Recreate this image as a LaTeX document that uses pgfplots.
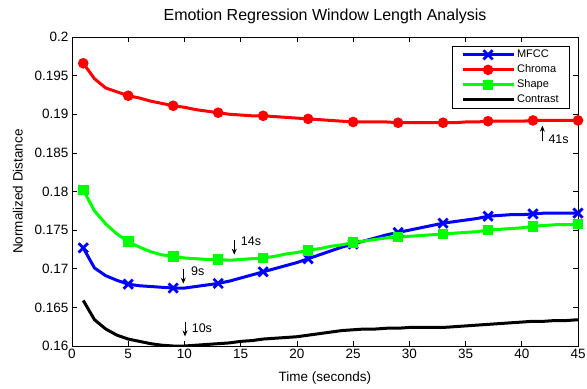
\documentclass[border=0pt]{standalone}
\usepackage{pgfplots}
\pgfplotsset{compat=1.18}
\usepackage{pgfplotstable}
\usetikzlibrary{arrows.meta,calc}
\usepackage{fontspec}
\setmainfont{Liberation Sans}
\definecolor{mblue}{RGB}{0,0,255}
\definecolor{mred}{RGB}{255,0,0}
\definecolor{mgreen}{RGB}{0,255,0}
\pgfplotstableread{
x mfcc chroma shape contrast
1 0.1727 0.1966 0.1802 0.1659
2 0.1701 0.1946 0.1775 0.1634
3 0.1691 0.1934 0.1758 0.1622
4 0.1685 0.1929 0.1745 0.1614
5 0.1680 0.1924 0.1735 0.1609
6 0.1678 0.1921 0.1728 0.1606
7 0.1677 0.1917 0.1722 0.1603
8 0.1676 0.1914 0.1718 0.1601
9 0.1675 0.1911 0.1716 0.1600
10 0.1675 0.1909 0.1714 0.1600
11 0.1677 0.1906 0.1713 0.1601
12 0.1679 0.1904 0.1712 0.1602
13 0.1681 0.1902 0.1712 0.1603
14 0.1684 0.1900 0.1711 0.1604
15 0.1688 0.1899 0.1712 0.1606
16 0.1692 0.1898 0.1713 0.1607
17 0.1696 0.1898 0.1714 0.1609
18 0.1700 0.1897 0.1716 0.1610
19 0.1704 0.1896 0.1719 0.1611
20 0.1708 0.1895 0.1721 0.1612
21 0.1713 0.1894 0.1724 0.1614
22 0.1718 0.1893 0.1726 0.1616
23 0.1723 0.1892 0.1729 0.1618
24 0.1728 0.1891 0.1731 0.1620
25 0.1732 0.1890 0.1734 0.1621
26 0.1736 0.1890 0.1736 0.1622
27 0.1740 0.1890 0.1738 0.1622
28 0.1744 0.1890 0.1740 0.1623
29 0.1747 0.1889 0.1741 0.1623
30 0.1750 0.1889 0.1742 0.1624
31 0.1753 0.1889 0.1743 0.1624
32 0.1756 0.1889 0.1744 0.1624
33 0.1759 0.1889 0.1745 0.1624
34 0.1761 0.1889 0.1746 0.1625
35 0.1763 0.1890 0.1747 0.1626
36 0.1765 0.1890 0.1748 0.1627
37 0.1768 0.1891 0.1750 0.1628
38 0.1769 0.1891 0.1751 0.1629
39 0.1770 0.1891 0.1752 0.1630
40 0.1770 0.1891 0.1753 0.1631
41 0.1771 0.1892 0.1755 0.1632
42 0.1772 0.1892 0.1756 0.1632
43 0.1772 0.1892 0.1757 0.1633
44 0.1772 0.1892 0.1757 0.1633
45 0.1772 0.1892 0.1758 0.1634
}\data
\begin{document}
\begin{tikzpicture}
\begin{axis}[
  scale only axis,
  width=506pt, height=309pt,
  xmin=0, xmax=45, ymin=0.16, ymax=0.2,
  xtick={0,5,...,45},
  ytick={0.16,0.165,0.17,0.175,0.18,0.185,0.19,0.195,0.2},
  yticklabels={0.16,0.165,0.17,0.175,0.18,0.185,0.19,0.195,0.2},
  tick align=inside,
  major tick length=5pt,
  tick style={black, line width=0.6pt},
  axis line style={line width=0.8pt},
  ticklabel style={font=\fontsize{13.5}{15}\selectfont},
  /pgf/number format/assume math mode=true,
  title={Emotion Regression Window Length Analysis},
  title style={font=\fontsize{16}{18}\selectfont, at={(rel axis cs:0.5,1)}, anchor=base, yshift=10.5pt},
  xlabel={Time (seconds)},
  ylabel={Normalized Distance},
  label style={font=\fontsize{13.5}{15}\selectfont},
  xlabel style={at={(rel axis cs:0.5,0)}, anchor=base, yshift=-35.7pt},
  ylabel style={at={(axis description cs:-0.0978,0.5)}, anchor=base},
  legend style={at={(rel axis cs:1,1)}, anchor=north east, xshift=-8pt, yshift=-9pt,
    font=\fontsize{11}{12}\selectfont, draw=black, line width=0.7pt, inner ysep=1pt, inner xsep=9pt,
    nodes={inner sep=2pt, text height=8pt, text depth=3pt}, row sep=0pt},
  legend cell align=left,
  legend image code/.code={
    \draw[#1, line width=3pt] (0pt,0pt) -- (51pt,0pt);
    \draw[#1, mark repeat=1, mark phase=1] plot coordinates {(25.5pt,0pt)};
  },
]
\addplot[mblue, line width=3pt, mark=x, mark size=6.5pt, mark repeat=4, mark options={line width=2.8pt}] table[x=x,y=mfcc]{\data};
\addlegendentry{MFCC}
\addplot[mred, line width=3pt, mark=*, mark size=4.8pt, mark repeat=4, mark options={fill=mred, line width=1pt}] table[x=x,y=chroma]{\data};
\addlegendentry{Chroma}
\addplot[mgreen, line width=3pt, mark=square*, mark size=4.8pt, mark repeat=4, mark options={fill=mgreen, line width=1pt}] table[x=x,y=shape]{\data};
\addlegendentry{Shape}
\addplot[black, line width=3pt, mark=none] table[x=x,y=contrast]{\data};
\addlegendentry{Contrast}
\draw[-{Stealth[length=6pt,width=5pt]}, line width=1pt] (axis cs:9.9,0.16997) -- (axis cs:9.9,0.16807);
\node[anchor=west, font=\fontsize{12.5}{13}\selectfont, inner sep=0pt] at (axis cs:10.58,0.16966) {9s};
\draw[-{Stealth[length=6pt,width=5pt]}, line width=1pt] (axis cs:14.43,0.17376) -- (axis cs:14.43,0.17182);
\node[anchor=west, font=\fontsize{12.5}{13}\selectfont, inner sep=0pt] at (axis cs:15.0,0.17354) {14s};
\draw[-{Stealth[length=6pt,width=5pt]}, line width=1pt] (axis cs:10.05,0.16306) -- (axis cs:10.05,0.16124);
\node[anchor=west, font=\fontsize{12.5}{13}\selectfont, inner sep=0pt] at (axis cs:10.64,0.16233) {10s};
\draw[-{Stealth[length=6pt,width=5pt]}, line width=1pt] (axis cs:41.83,0.18649) -- (axis cs:41.83,0.18852);
\node[anchor=west, font=\fontsize{12.5}{13}\selectfont, inner sep=0pt] at (axis cs:42.36,0.18671) {41s};
\end{axis}
\pgfresetboundingbox
\path ($(current axis.south west)+(-72pt,-42pt)$) rectangle ($(current axis.north east)+(9pt,37pt)$);
\end{tikzpicture}
\end{document}
